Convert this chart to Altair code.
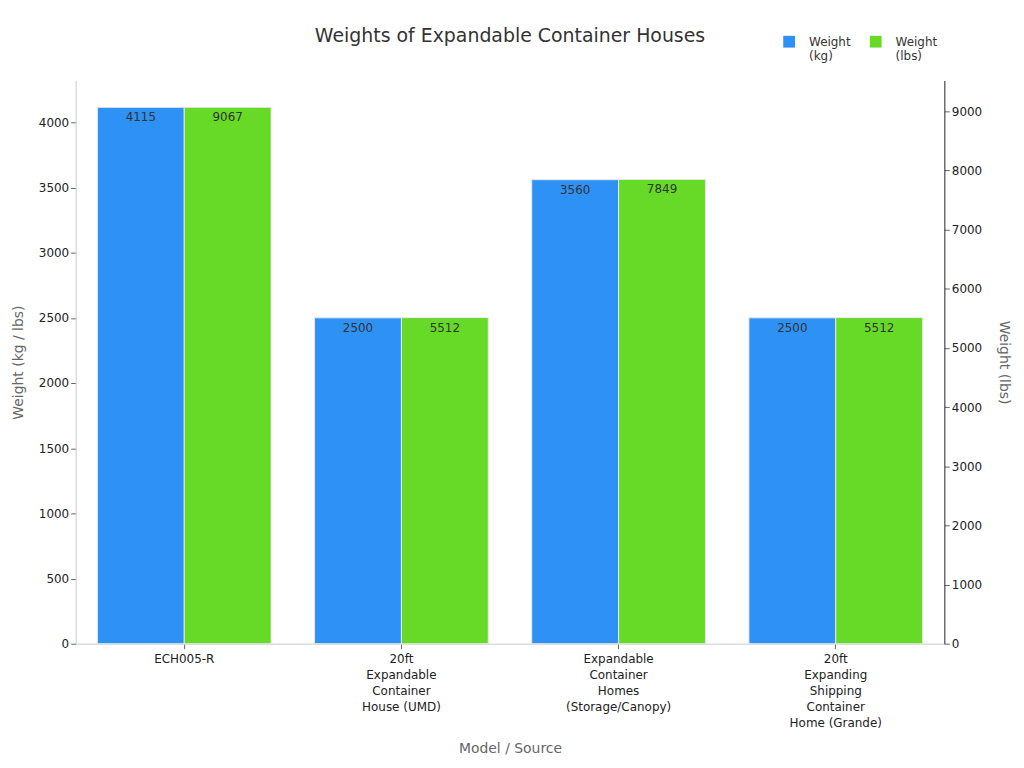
import altair as alt
import pandas as pd

categories = ["ECH005-R", "20ft Expandable Container House (UMD)",
              "Expandable Container Homes (Storage/Canopy)",
              "20ft Expanding Shipping Container Home (Grande)"]
weight_kg = [4115, 2500, 3560, 2500]
weight_lbs = [9067, 5512, 7849, 5512]
series_names = ["Weight (kg)", "Weight (lbs)"]
colors = ["#2E91F5", "#66DA26"]

wrapped = {
    "ECH005-R": ["ECH005-R"],
    "20ft Expandable Container House (UMD)": ["20ft", "Expandable", "Container", "House (UMD)"],
    "Expandable Container Homes (Storage/Canopy)": ["Expandable", "Container", "Homes", "(Storage/Canopy)"],
    "20ft Expanding Shipping Container Home (Grande)": ["20ft", "Expanding", "Shipping", "Container", "Home (Grande)"],
}
label_expr = "{" + ",".join(
    "'" + k + "':[" + ",".join("'" + s + "'" for s in v) + "]" for k, v in wrapped.items()
) + "}[datum.value]"

rows = []
for c, k, l in zip(categories, weight_kg, weight_lbs):
    rows.append({"model": c, "series": series_names[0], "value": k})
    rows.append({"model": c, "series": series_names[1], "value": l})
df = pd.DataFrame(rows)

font = "DejaVu Sans"

x = alt.X("model:N", sort=categories,
          scale=alt.Scale(paddingInner=0.2, paddingOuter=0.1),
          axis=alt.Axis(title="Model / Source", labelAngle=0, labelExpr=label_expr,
                        labelFontSize=12, labelColor="#222", labelLineHeight=16,
                        titleFontSize=14, titleColor="#666", titleFontWeight="normal",
                        titlePadding=13, domainColor="#ccc", tickColor="#666",
                        labelPadding=5))
xo = alt.XOffset("series:N", sort=series_names, scale=alt.Scale(domain=series_names))
color = alt.Color("series:N", sort=series_names,
                  scale=alt.Scale(domain=series_names, range=colors),
                  legend=alt.Legend(title=None, orient="none", legendX=711, legendY=-45,
                                    direction="horizontal", symbolType="square",
                                    symbolSize=140, labelFontSize=12, labelColor="#333",
                                    labelOffset=14,
                                    labelExpr="split(datum.label, ' ')", columnPadding=19,
                                    symbolStrokeWidth=0))

base = alt.Chart(df)

left_y = alt.Y("value:Q", scale=alt.Scale(domain=[0, 4115 * 1.05], nice=False),
               axis=alt.Axis(title="Weight (kg / lbs)", tickCount=10, grid=False, format="d",
                             labelFontSize=12, labelColor="#222", titleFontSize=14,
                             titleColor="#666", titleFontWeight="normal", titlePadding=13,
                             domainColor="#ccc", tickColor="#666"))
right_y = alt.Y("value:Q", scale=alt.Scale(domain=[0, 9067 * 1.05], nice=False),
                axis=alt.Axis(title="Weight (lbs)", orient="right", tickCount=10, grid=False,
                              format="d", labelFontSize=12, labelColor="#222", titleFontSize=14,
                              titleColor="#666", titleFontWeight="normal", titlePadding=15,
                              domainColor="#222", tickColor="#666"))

kg = base.transform_filter(alt.datum.series == series_names[0])
lbs = base.transform_filter(alt.datum.series == series_names[1])

kg_layer = alt.layer(
    kg.mark_bar(stroke="#e8e8e8", strokeWidth=1).encode(x=x, xOffset=xo, y=left_y, color=color),
    kg.mark_text(baseline="top", dy=5, fontSize=12, color="#333", font=font).encode(
        x=x, xOffset=xo, y=left_y, text="value:Q"),
)
lbs_layer = alt.layer(
    lbs.mark_bar(stroke="#e8e8e8", strokeWidth=1).encode(x=x, xOffset=xo, y=right_y, color=color),
    lbs.mark_text(baseline="top", dy=5, fontSize=12, color="#333", font=font).encode(
        x=x, xOffset=xo, y=right_y, text="value:Q"),
)

chart = alt.layer(kg_layer, lbs_layer).resolve_scale(y="independent").properties(
    width=873, height=566,
    padding={"top": 17, "left": 3, "right": 5, "bottom": 5},
    title=alt.TitleParams("Weights of Expandable Container Houses", fontSize=19,
                          font=font, color="#333", fontWeight="normal", offset=-10,
                          frame="group"),
).configure(font=font).configure_view(stroke=None)

chart.save("out.html", embed_options={"renderer": "svg", "actions": False})
